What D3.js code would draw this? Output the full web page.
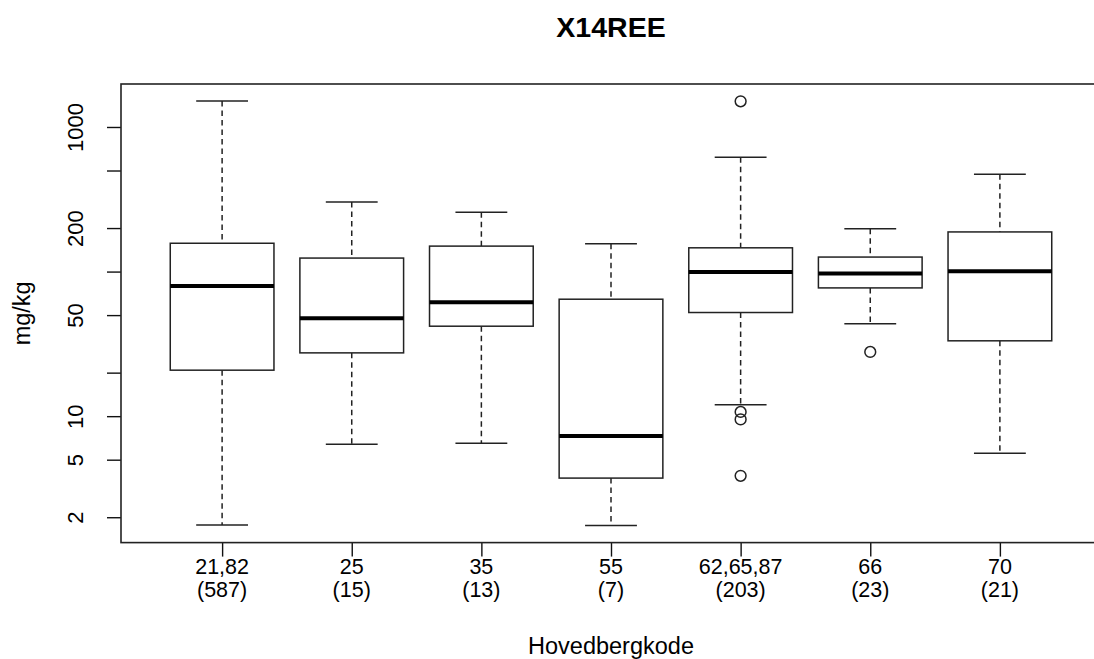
<!DOCTYPE html>
<html>
<head>
<meta charset="utf-8">
<script src="https://cdn.jsdelivr.net/npm/d3@7"></script>
<style>
  body { margin: 0; background: #fff; }
  svg { display: block; }
  text { font-family: "Liberation Sans", Arial, Helvetica, sans-serif; fill: #000; }
</style>
</head>
<body>
<div id="chart"></div>
<script>
// values (log y axis)
var categories = ["21,82", "25", "35", "55", "62,65,87", "66", "70"];
var counts = [587, 15, 13, 7, 203, 23, 21];
var whiskLo = [1.77, 6.4, 6.5, 1.75, 12.0, 43.5, 5.55];
var q1 = [20.8, 27.4, 41.9, 3.73, 52.1, 77.1, 33.2];
var median = [79.6, 47.6, 61.4, 7.3, 99.5, 96.9, 100.5];
var q3 = [157, 124, 150, 64.4, 146, 126, 188];
var whiskHi = [1513, 303, 257, 156, 618, 198, 471];
var outliers = [[], [], [], [], [1506, 10.7, 9.5, 3.87], [27.8], []];

var yTicks = [2, 5, 10, 20, 50, 100, 200, 500, 1000];
var yLabels = [2, 5, 10, 50, 200, 1000];

var width = 1094, height = 659;
var plot = {left: 121, right: 1101, top: 84, bottom: 542.6};

var svg = d3.select("#chart").append("svg")
    .attr("width", width)
    .attr("height", height);

// same range as R: data range plus 4% each side (in log space)
var allVals = whiskLo.concat(whiskHi, d3.merge(outliers));
var lmin = Math.log10(d3.min(allVals)), lmax = Math.log10(d3.max(allVals));
var pad = (lmax - lmin) * 0.04;
var y = d3.scaleLog()
    .domain([Math.pow(10, lmin - pad), Math.pow(10, lmax + pad)])
    .range([plot.bottom, plot.top]);

var n = categories.length;
var xpad = n * 0.04;
var x = d3.scaleLinear()
    .domain([0.5 - xpad, n + 0.5 + xpad])
    .range([plot.left, plot.right]);

var data = categories.map(function(c, i) {
    return {cat: c, n: counts[i], lo: whiskLo[i], q1: q1[i], med: median[i],
            q3: q3[i], hi: whiskHi[i], out: outliers[i], pos: i + 1};
});

// title + axis labels
svg.append("text")
    .attr("x", (plot.left + plot.right) / 2)
    .attr("y", 37)
    .attr("text-anchor", "middle")
    .style("font-size", "28.5px")
    .style("font-weight", "bold")
    .text("X14REE");

svg.append("text")
    .attr("x", (plot.left + plot.right) / 2)
    .attr("y", 654)
    .attr("text-anchor", "middle")
    .style("font-size", "23.5px")
    .text("Hovedbergkode");

svg.append("text")
    .attr("transform", "translate(30," + ((plot.top + plot.bottom) / 2) + ") rotate(-90)")
    .attr("text-anchor", "middle")
    .style("font-size", "23.5px")
    .text("mg/kg");

// y axis
var yAxis = d3.axisLeft(y)
    .tickValues(yTicks)
    .tickSize(14)
    .tickFormat(function(d) { return yLabels.indexOf(d) >= 0 ? d : ""; });

var gy = svg.append("g")
    .attr("transform", "translate(" + plot.left + ",0)")
    .call(yAxis);
gy.select(".domain").remove();
gy.selectAll(".tick line").attr("stroke", "#111").attr("stroke-width", 1.4);
gy.selectAll(".tick text")
    .attr("x", 0).attr("y", 0).attr("dy", 0)
    .attr("transform", "translate(-38,0) rotate(-90)")
    .attr("text-anchor", "middle")
    .style("font-size", "22px")
    .style("font-family", "Liberation Sans, Arial, sans-serif");

// x axis ticks with two-line labels
var xAxis = d3.axisBottom(x)
    .tickValues(d3.range(1, n + 1))
    .tickSize(14)
    .tickFormat("");
var gx = svg.append("g")
    .attr("transform", "translate(0," + plot.bottom + ")")
    .call(xAxis);
gx.select(".domain").remove();
gx.selectAll(".tick line").attr("stroke", "#111").attr("stroke-width", 1.4);

var labs = svg.append("g").selectAll("text")
    .data(data)
    .enter()
    .append("text")
    .attr("text-anchor", "middle")
    .style("font-size", "21.5px");
labs.append("tspan")
    .attr("x", function(d) { return x(d.pos); })
    .attr("y", 574)
    .text(function(d) { return d.cat; });
labs.append("tspan")
    .attr("x", function(d) { return x(d.pos); })
    .attr("y", 597)
    .text(function(d) { return "(" + d.n + ")"; });

// boxes
var boxW = x(1.4) - x(1), capW = x(1.2) - x(1);
var g = svg.append("g").selectAll("g")
    .data(data)
    .enter()
    .append("g");

g.append("line")
    .attr("x1", function(d) { return x(d.pos); })
    .attr("x2", function(d) { return x(d.pos); })
    .attr("y1", function(d) { return y(d.hi); })
    .attr("y2", function(d) { return y(d.q3); })
    .attr("stroke", "#222").attr("stroke-width", 1.5)
    .attr("stroke-dasharray", "5.5,4");
g.append("line")
    .attr("x1", function(d) { return x(d.pos); })
    .attr("x2", function(d) { return x(d.pos); })
    .attr("y1", function(d) { return y(d.q1); })
    .attr("y2", function(d) { return y(d.lo); })
    .attr("stroke", "#222").attr("stroke-width", 1.5)
    .attr("stroke-dasharray", "5.5,4");

["hi", "lo"].forEach(function(k) {
    g.append("line")
        .attr("x1", function(d) { return x(d.pos) - capW; })
        .attr("x2", function(d) { return x(d.pos) + capW; })
        .attr("y1", function(d) { return y(d[k]); })
        .attr("y2", function(d) { return y(d[k]); })
        .attr("stroke", "#222").attr("stroke-width", 1.5);
});

g.append("rect")
    .attr("x", function(d) { return x(d.pos) - boxW; })
    .attr("y", function(d) { return y(d.q3); })
    .attr("width", boxW * 2)
    .attr("height", function(d) { return y(d.q1) - y(d.q3); })
    .attr("fill", "#fff")
    .attr("stroke", "#222").attr("stroke-width", 1.5);

g.append("line")
    .attr("x1", function(d) { return x(d.pos) - boxW; })
    .attr("x2", function(d) { return x(d.pos) + boxW; })
    .attr("y1", function(d) { return y(d.med); })
    .attr("y2", function(d) { return y(d.med); })
    .attr("stroke", "#000").attr("stroke-width", 4);

g.selectAll("circle")
    .data(function(d) { return d.out.map(function(v) { return {pos: d.pos, v: v}; }); })
    .enter()
    .append("circle")
    .attr("cx", function(d) { return x(d.pos); })
    .attr("cy", function(d) { return y(d.v); })
    .attr("r", 5.4)
    .attr("fill", "none")
    .attr("stroke", "#222").attr("stroke-width", 1.5);

// plot frame
svg.append("rect")
    .attr("x", plot.left)
    .attr("y", plot.top)
    .attr("width", plot.right - plot.left)
    .attr("height", plot.bottom - plot.top)
    .attr("fill", "none")
    .attr("stroke", "#222")
    .attr("stroke-width", 1.6);
</script>
</body>
</html>
